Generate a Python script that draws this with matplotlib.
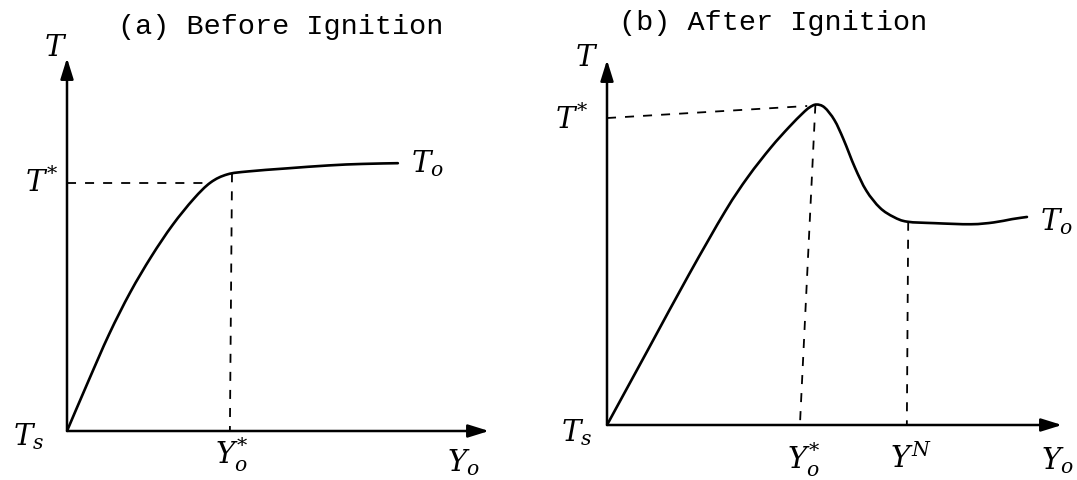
import matplotlib
matplotlib.use("Agg")
import matplotlib.pyplot as plt
from matplotlib.path import Path
from matplotlib.patches import PathPatch

# Panel (a): temperature profile before ignition
a_y0 = [0.00, 0.50, 1.00, 1.50, 2.00, 2.50, 3.00, 3.40, 3.80, 4.30, 5.20, 6.20, 7.00, 7.84]
a_T = [0.00, 1.32, 2.60, 3.72, 4.68, 5.52, 6.22, 6.66, 6.88, 6.96, 7.04, 7.12, 7.16, 7.18]
a_Tstar = 6.65
a_Tstar_end = 3.42
a_y0star_top = (3.91, 6.91)
a_y0star_bottom = 3.86

# Panel (b): temperature profile after ignition
b_y0 = [0.00, 0.90, 1.80, 2.60, 3.10, 3.60, 4.00, 4.30, 4.45, 4.60, 4.78, 5.00,
        5.20, 5.45, 5.70, 6.00, 6.30, 6.60, 7.20, 8.00, 8.50, 8.90, 9.23]
b_T = [0.00, 2.06, 4.12, 5.86, 6.80, 7.60, 8.16, 8.54, 8.70, 8.78, 8.70, 8.35,
       7.82, 7.05, 6.42, 5.95, 5.70, 5.57, 5.53, 5.50, 5.55, 5.64, 5.70]
b_Tstar_left = 8.41
b_Tstar_right = (4.40, 8.74)
b_y0star_top = (4.58, 8.78)
b_y0star_bottom = 4.24
b_yN_top = (6.62, 5.57)
b_yN_bottom = 6.59

titles = ["(a) Before Ignition", "(b) After Ignition"]

W, H = 1077, 480
fig = plt.figure(figsize=(W / 100, H / 100), dpi=100)
fig.patch.set_facecolor("white")
plt.rcParams["mathtext.fontset"] = "dejavuserif"


def make_axes(x0, y0, x1, y1):
    ax = fig.add_axes([x0 / W, 1 - y0 / H, (x1 - x0) / W, (y0 - y1) / H])
    ax.set_xlim(0, 10)
    ax.set_ylim(0, 10)
    ax.axis("off")
    return ax


def draw_frame(ax):
    props = dict(arrowstyle="-|>,head_length=0.9,head_width=0.28", lw=1.8,
                 color="black", shrinkA=0, shrinkB=0, mutation_scale=14)
    ax.annotate("", xy=(10, 0), xytext=(0, 0), arrowprops=props,
                annotation_clip=False)
    ax.annotate("", xy=(0, 10), xytext=(0, 0), arrowprops=props,
                annotation_clip=False)


def smooth_curve(ax, xs, ys, lw=1.9):
    """Draw a smooth Catmull-Rom curve through the given points."""
    pts = list(zip(xs, ys))
    n = len(pts)
    verts = [pts[0]]
    codes = [Path.MOVETO]
    for i in range(n - 1):
        p0 = pts[max(i - 1, 0)]
        p1 = pts[i]
        p2 = pts[i + 1]
        p3 = pts[min(i + 2, n - 1)]
        c1 = (p1[0] + (p2[0] - p0[0]) / 6, p1[1] + (p2[1] - p0[1]) / 6)
        c2 = (p2[0] - (p3[0] - p1[0]) / 6, p2[1] - (p3[1] - p1[1]) / 6)
        verts += [c1, c2, p2]
        codes += [Path.CURVE4] * 3
    ax.add_patch(PathPatch(Path(verts, codes), fill=False, lw=lw,
                           edgecolor="black", capstyle="round",
                           joinstyle="round"))


lab = dict(fontsize=21, color="black", ha="center", va="center", clip_on=False)
dash = dict(color="black", lw=1.3, linestyle=(0, (5, 5)))

# ---- panel (a)
axa = make_axes(67, 431, 489, 58)
draw_frame(axa)
smooth_curve(axa, a_y0, a_T)
axa.plot([0, a_Tstar_end], [a_Tstar, a_Tstar], **dash)
axa.plot([a_y0star_top[0], a_y0star_bottom], [a_y0star_top[1], 0], **dash)
axa.text(-0.28, 10.27, r"$T$", **lab)
axa.text(-0.6, 6.65, r"$T^{*}$", **lab)
axa.text(-0.92, -0.16, r"$T_s$", **lab)
axa.text(8.55, 7.18, r"$T_o$", **lab)
axa.text(3.89, -0.64, r"$Y_o^{*}$", **lab)
axa.text(9.38, -0.85, r"$Y_o$", **lab)

# ---- panel (b)
axb = make_axes(607, 425, 1062, 60)
draw_frame(axb)
smooth_curve(axb, b_y0, b_T)
axb.plot([0, b_Tstar_right[0]], [b_Tstar_left, b_Tstar_right[1]], **dash)
axb.plot([b_y0star_top[0], b_y0star_bottom], [b_y0star_top[1], 0], **dash)
axb.plot([b_yN_top[0], b_yN_bottom], [b_yN_top[1], 0], **dash)
axb.text(-0.44, 10.05, r"$T$", **lab)
axb.text(-0.78, 8.36, r"$T^{*}$", **lab)
axb.text(-0.66, -0.22, r"$T_s$", **lab)
axb.text(9.88, 5.56, r"$T_o$", **lab)
axb.text(4.33, -0.96, r"$Y_o^{*}$", **lab)
axb.text(6.68, -0.92, r"$Y^{N}$", **lab)
axb.text(9.9, -0.98, r"$Y_o$", **lab)

# ---- titles
fig.text(281 / W, 1 - 27 / H, titles[0], family="Liberation Mono", fontsize=20.5,
         ha="center", va="center")
fig.text(773 / W, 1 - 23 / H, titles[1], family="Liberation Mono", fontsize=20.5,
         ha="center", va="center")

fig.savefig("out.png", dpi=100, facecolor="white")
